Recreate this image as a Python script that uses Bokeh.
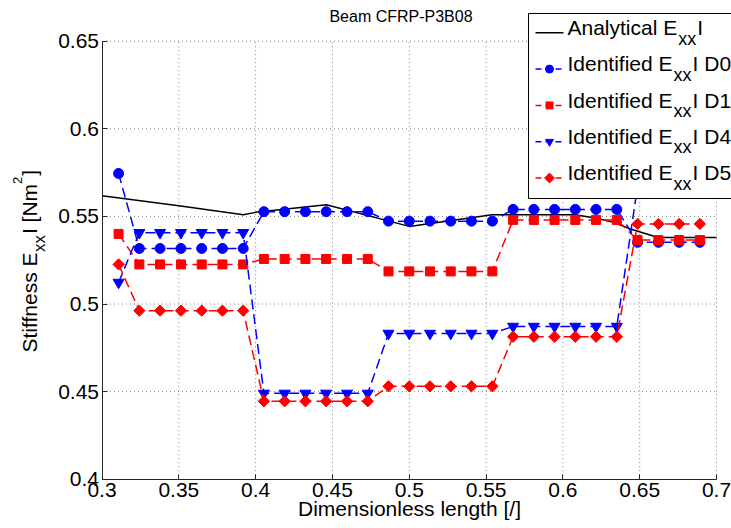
import numpy as np
from bokeh.plotting import figure
from bokeh.models import Range1d, FixedTicker, Label
from bokeh.embed import file_html
from bokeh.resources import INLINE

# ---------------- data ----------------
x_pos = [0.3108, 0.3243, 0.3378, 0.3514, 0.3649, 0.3784, 0.3919,
         0.4054, 0.4189, 0.4324, 0.4459, 0.4595, 0.4730,
         0.4865, 0.5000, 0.5135, 0.5270, 0.5405, 0.5541,
         0.5676, 0.5811, 0.5946, 0.6081, 0.6216, 0.6351,
         0.6486, 0.6622, 0.6757, 0.6892]

analytical_x = [0.300, 0.350, 0.392, 0.400, 0.446, 0.500, 0.554, 0.600,
                0.608, 0.622, 0.633, 0.644, 0.662, 0.700]
analytical_y = [0.5618, 0.5561, 0.5510, 0.5523, 0.5567, 0.5443, 0.5510, 0.5510,
                0.5510, 0.5490, 0.5466, 0.5428, 0.5380, 0.5380]

d0 = [0.5745,
      0.5317, 0.5317, 0.5317, 0.5317, 0.5317, 0.5317,
      0.5527, 0.5527, 0.5527, 0.5527, 0.5527, 0.5527,
      0.5473, 0.5473, 0.5473, 0.5473, 0.5473, 0.5473,
      0.5540, 0.5540, 0.5540, 0.5540, 0.5540, 0.5540,
      0.5352, 0.5352, 0.5352, 0.5352]
d1 = [0.5400,
      0.5226, 0.5226, 0.5226, 0.5226, 0.5226, 0.5226,
      0.5257, 0.5257, 0.5257, 0.5257, 0.5257, 0.5257,
      0.5186, 0.5186, 0.5186, 0.5186, 0.5186, 0.5186,
      0.5480, 0.5480, 0.5480, 0.5480, 0.5480, 0.5480,
      0.5365, 0.5365, 0.5365, 0.5365]
d4 = [0.5123,
      0.5407, 0.5407, 0.5407, 0.5407, 0.5407, 0.5407,
      0.4490, 0.4490, 0.4490, 0.4490, 0.4490, 0.4490,
      0.4832, 0.4832, 0.4832, 0.4832, 0.4832, 0.4832,
      0.4872, 0.4872, 0.4872, 0.4872, 0.4872, 0.4872,
      0.5670, 0.5670, 0.5670, 0.5670]
d5 = [0.5226,
      0.4962, 0.4962, 0.4962, 0.4962, 0.4962, 0.4962,
      0.4445, 0.4445, 0.4445, 0.4445, 0.4445, 0.4445,
      0.4530, 0.4530, 0.4530, 0.4530, 0.4530, 0.4530,
      0.4813, 0.4813, 0.4813, 0.4813, 0.4813, 0.4813,
      0.5457, 0.5457, 0.5457, 0.5457]

x_ticks = [0.3, 0.35, 0.4, 0.45, 0.5, 0.55, 0.6, 0.65, 0.7]
x_tick_labels = ["0.3", "0.35", "0.4", "0.45", "0.5", "0.55", "0.6", "0.65", "0.7"]
y_ticks = [0.4, 0.45, 0.5, 0.55, 0.6, 0.65]
y_tick_labels = ["0.4", "0.45", "0.5", "0.55", "0.6", "0.65"]

title_text = "Beam CFRP-P3B08"
x_label = "Dimensionless length [/]"
y_label_parts = ["Stiffness E", "xx", "I [Nm", "2", "]"]
legend_main = ["Analytical E", "Identified E", "Identified E", "Identified E", "Identified E"]
legend_tail = ["I", "I D0", "I D1", "I D4", "I D5"]
legend_sub = "xx"

# ---------------- layout helpers (canvas pixels) ----------------
FONT = "Liberation Sans"
W, H = 731, 528
PX0, PX1 = 101.5, 716.0     # pixel of x = 0.3 / 0.7
PY0, PY1 = 478.7, 40.7      # pixel of y = 0.4 / 0.65
XS = (PX1 - PX0) / 0.4
YS = (PY0 - PY1) / 0.25
x_start, x_end = 0.3 - PX0 / XS, 0.7 + (W - PX1) / XS
y_start, y_end = 0.4 - (H - PY0) / YS, 0.65 + PY1 / YS
BASE_SHIFT = 0.45   # empirical offset of the rendered baseline (in em)

def dx(px): return 0.3 + (px - PX0) / XS
def dy(py): return 0.4 + (PY0 - py) / YS

AW = {'A': 667, 'B': 667, 'C': 722, 'D': 722, 'E': 667, 'F': 611, 'I': 278, 'N': 722,
      'P': 667, 'R': 722, 'S': 667, 'a': 556, 'c': 500, 'd': 556, 'e': 556, 'f': 278,
      'i': 222, 'l': 222, 'm': 833, 'n': 556, 's': 500, 't': 278, 'x': 500, 'y': 500,
      ' ': 278, '[': 278, ']': 278, '/': 278, '-': 333, '.': 278}
def tw(s, size): return sum(AW.get(c, 556) for c in s) * size / 1000.0

def label(px, py, text, size, align="left", angle=0.0):
    ax_ = px - BASE_SHIFT * size * np.sin(angle)
    ay_ = py - BASE_SHIFT * size * np.cos(angle)
    p.add_layout(Label(x=dx(ax_), y=dy(ay_), text=text, text_font=FONT,
                       text_font_size=f"{size}px", text_color="black",
                       text_baseline="alphabetic", text_align=align, angle=angle))

p = figure(width=W, height=H, x_range=Range1d(x_start, x_end), y_range=Range1d(y_start, y_end),
           output_backend="svg", toolbar_location=None, title=None,
           min_border_left=0, min_border_right=0, min_border_top=0, min_border_bottom=0)
p.outline_line_color = None
p.background_fill_color = "white"
p.border_fill_color = "white"
p.xgrid.visible = False
p.ygrid.visible = False

p.xaxis.fixed_location = 0.4
p.yaxis.fixed_location = 0.3
for ax, ticks, labels, b in ((p.xaxis[0], x_ticks, x_tick_labels, (0.3, 0.7)),
                             (p.yaxis[0], y_ticks, y_tick_labels, (0.4, 0.65))):
    ax.ticker = FixedTicker(ticks=ticks)
    ax.bounds = b
    ax.major_label_overrides = {t: l for t, l in zip(ticks, labels)}
    ax.major_tick_in = 5
    ax.major_tick_out = 0
    ax.minor_tick_line_color = None
    ax.axis_line_color = "#262626"
    ax.major_tick_line_color = "#262626"
    ax.major_label_text_font = FONT
    ax.major_label_text_font_size = "21px"
    ax.major_label_text_color = "black"
p.xaxis.major_label_standoff = 4
p.yaxis.major_label_standoff = 3

# dotted grid
gv = x_ticks[1:]
p.segment(x0=gv, y0=[y_ticks[0]] * len(gv), x1=gv, y1=[y_ticks[-1]] * len(gv),
          line_color="#7f7f7f", line_dash="1 3", line_width=1)
gh = y_ticks[1:]
p.segment(x0=[x_ticks[0]] * len(gh), y0=gh, x1=[x_ticks[-1]] * len(gh), y1=gh,
          line_color="#7f7f7f", line_dash="1 3", line_width=1)

# data
p.line(analytical_x, analytical_y, line_color="black", line_width=1.5)
series = [
    (d0, "blue", "circle", 10, 0.0),
    (d1, "red", "square", 9, 0.0),
    (d4, "blue", "inverted_triangle", 11, 0.0),
    (d5, "red", "square", 8, np.pi / 4),
]
for vals, c, m, s, a in series:
    p.line(x_pos, vals, line_color=c, line_dash="10 5", line_width=1.5)
    p.scatter(x_pos, vals, marker=m, size=s, angle=a, fill_color=c, line_color=c)

# legend
p.quad(left=[dx(528)], right=[dx(760)], top=[dy(13)], bottom=[dy(198)],
       fill_color="white", line_color="black", line_width=1)
row_y = [32.3, 68.6, 104.9, 141.2, 177.5]
p.line([dx(535), dx(563)], [dy(row_y[0])] * 2, line_color="black", line_width=1.5)
legend_sizes = [8, 7, 8, 7]
for i, (vals, c, m, s, a) in enumerate(series):
    yy = dy(row_y[i + 1])
    p.line([dx(535), dx(563)], [yy, yy], line_color=c, line_dash="6 4", line_width=1.5)
    p.scatter([dx(549)], [yy], marker=m, size=legend_sizes[i], angle=a,
              fill_color=c, line_color=c)

LF, LS = 21, 18
for i in range(5):
    base = row_y[i] + 4.3
    x1 = 567
    label(x1, base, legend_main[i], LF)
    x2 = x1 + tw(legend_main[i], LF) + 1
    label(x2, base + 9.5, legend_sub, LS)
    x3 = x2 + tw(legend_sub, LS) + 1
    label(x3, base, legend_tail[i], LF)

# title
label(400.5, 23, title_text, 16, align="center")

# x axis label
label(409, 517, x_label, 21, align="center")

# y axis label (rotated, with subscript / superscript)
sizes = [21, 17, 21, 13, 21]
bases = [38.5, 47.0, 38.5, 23.0, 38.5]
pos = 352.0
for part, fs, bx in zip(y_label_parts, sizes, bases):
    label(bx, pos, part, fs, angle=np.pi / 2)
    pos -= tw(part, fs) + (1 if fs != 21 else 0)

open("out.html", "w").write(file_html(p, INLINE))
